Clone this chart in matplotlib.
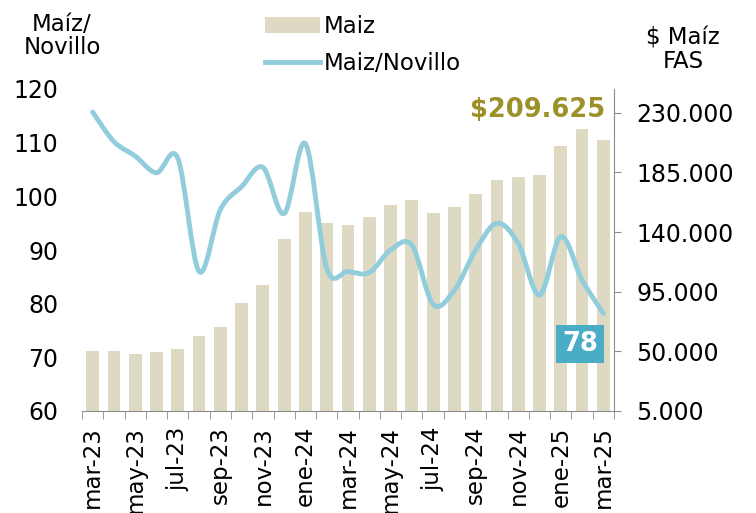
import numpy as np
import matplotlib.pyplot as plt
from matplotlib.path import Path
from matplotlib.patches import PathPatch, Patch
from matplotlib.lines import Line2D

# Datos
meses = ['mar-23', 'abr-23', 'may-23', 'jun-23', 'jul-23', 'ago-23', 'sep-23', 'oct-23',
         'nov-23', 'dic-23', 'ene-24', 'feb-24', 'mar-24', 'abr-24', 'may-24', 'jun-24',
         'jul-24', 'ago-24', 'sep-24', 'oct-24', 'nov-24', 'dic-24', 'ene-25', 'feb-25', 'mar-25']
maiz_fas = [50500, 50500, 48000, 49300, 51800, 61400, 68700, 86800, 99900, 134900,
            155200, 146700, 145700, 151700, 160300, 164000, 154200, 159000, 168600, 179600,
            181900, 182900, 204800, 217900, 209625]
maiz_novillo = [115.7, 110.2, 107.5, 104.4, 107.1, 86.0, 97.5, 101.8, 105.4, 96.8,
                109.8, 86.6, 86.0, 85.8, 90.0, 90.9, 79.9, 82.5, 90.0, 95.0,
                91.2, 81.6, 92.5, 84.4, 78.2]

col_barra = '#DDD9C3'
col_linea = '#92CDDC'
col_eje = '#8C8C8C'
fuente = 'DejaVu Sans'

x = np.arange(len(meses))

fig = plt.figure(figsize=(7.56, 5.13), dpi=100)
ax2 = fig.add_axes([82/756, 1 - 411/513, 532/756, 322/513])
ax = ax2.twinx()
# barras en el eje derecho, linea en el izquierdo (dibujar linea encima)
ax2.yaxis.tick_right()
ax.yaxis.tick_left()
ax2.set_zorder(1)
ax.set_zorder(2)
ax.patch.set_visible(False)

ax2.bar(x, maiz_fas, width=0.6, color=col_barra, zorder=2)
ax2.set_ylim(5000, 248000)
ax2.set_yticks([5000, 50000, 95000, 140000, 185000, 230000])
ax2.set_yticklabels(['5.000', '50.000', '95.000', '140.000', '185.000', '230.000'],
                    fontsize=17, family=fuente)
ax2.tick_params(axis='y', right=True, left=False, labelright=True, labelleft=False,
                direction='out', length=5, color=col_eje, pad=11)

# linea suavizada (bezier tipo catmull-rom)
y = np.array(maiz_novillo)
verts = [(x[0], y[0])]
codes = [Path.MOVETO]
t = 1 / 6
for i in range(len(x) - 1):
    p0 = (x[i - 1], y[i - 1]) if i > 0 else (x[i], y[i])
    p1 = (x[i], y[i])
    p2 = (x[i + 1], y[i + 1])
    p3 = (x[i + 2], y[i + 2]) if i + 2 < len(x) else (x[i + 1], y[i + 1])
    c1 = (p1[0] + (p2[0] - p0[0]) * t, p1[1] + (p2[1] - p0[1]) * t)
    c2 = (p2[0] - (p3[0] - p1[0]) * t, p2[1] - (p3[1] - p1[1]) * t)
    verts += [c1, c2, p2]
    codes += [Path.CURVE4] * 3
ax.add_patch(PathPatch(Path(verts, codes), facecolor='none', edgecolor=col_linea,
                       lw=3.5, capstyle='round', zorder=3))
ax.set_ylim(60, 120)
ax.set_yticks(range(60, 121, 10))
ax.set_yticklabels([str(v) for v in range(60, 121, 10)], fontsize=17, family=fuente)
ax.tick_params(axis='y', left=False, right=False, labelleft=True, labelright=False,
               length=0, pad=17)

ax2.set_xlim(-0.5, 24.5)
ax2.set_xticks(x[::2])
ax2.set_xticklabels(meses[::2], rotation=90, fontsize=16.5, family=fuente)
ax2.set_xticks(np.arange(-0.5, 25, 1), minor=True)
ax2.tick_params(axis='x', which='major', length=0, pad=11)
ax2.tick_params(axis='x', which='minor', length=6, color=col_eje, direction='out')

for a in (ax, ax2):
    for s in ['top', 'left', 'right', 'bottom']:
        a.spines[s].set_visible(False)
ax2.spines['bottom'].set_visible(True)
ax2.spines['bottom'].set_color(col_eje)
ax2.spines['right'].set_visible(True)
ax2.spines['right'].set_color(col_eje)

# anotaciones
ax2.text(24.08, maiz_fas[-1] + 22700, '$209.625', ha='right', va='center',
         fontsize=18.5, fontweight='bold', color='#9B9128', family=fuente, zorder=5)
ax.text(22.9, 72.5, '78', ha='center', va='center', fontsize=18.5,
        fontweight='bold', color='white', family=fuente, zorder=5,
        bbox=dict(boxstyle='square,pad=0.22', facecolor='#4BACC6', edgecolor='none'))

# titulos de ejes
fig.text(62/756, 1 - 36/513, 'Maíz/\nNovillo', ha='center', va='center', fontsize=16.5,
         family=fuente, linespacing=1.0)
fig.text(683/756, 1 - 50/513, '$ Maíz\nFAS', ha='center', va='center', fontsize=16.5,
         family=fuente, linespacing=1.0)

# leyenda
handles = [Patch(facecolor=col_barra, edgecolor='none'),
           Line2D([0], [0], color=col_linea, lw=3.5)]
fig.legend(handles, ['Maiz', 'Maiz/Novillo'], loc='upper left',
           bbox_to_anchor=(265/756, 1 - 15/513), frameon=False,
           prop={'family': fuente, 'size': 16.5}, handlelength=2.4, handletextpad=0.17,
           labelspacing=0.6, borderpad=0, borderaxespad=0)

fig.savefig('out.png', dpi=100)
